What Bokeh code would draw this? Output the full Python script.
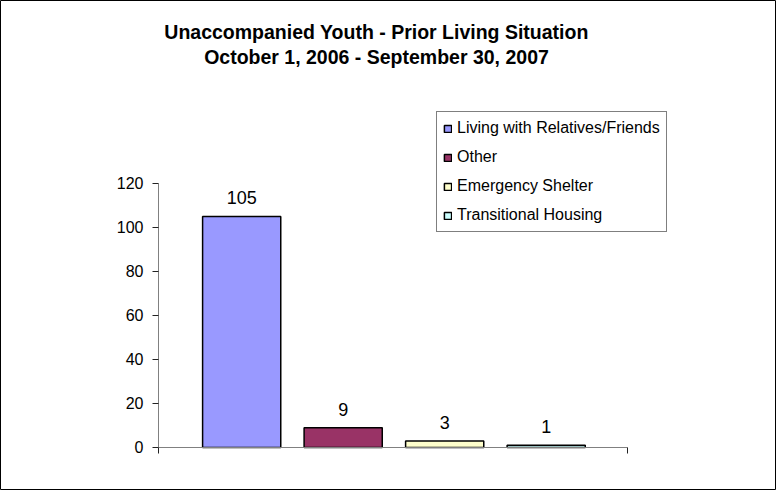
from bokeh.plotting import figure
from bokeh.models import (ColumnDataSource, Range1d, FixedTicker, Legend, LegendItem,
                          Label, CustomJSTickFormatter)
from bokeh.core.properties import value
from bokeh.embed import file_html
from bokeh.resources import INLINE

title_lines = ["Unaccompanied Youth - Prior Living Situation",
               "October 1, 2006 - September 30, 2007"]
series = ["Living with Relatives/Friends", "Other", "Emergency Shelter", "Transitional Housing"]
counts = [105, 9, 3, 1]
colors = ["#9999FF", "#993366", "#FFFFCC", "#CCFFFF"]
y_ticks = [0, 20, 40, 60, 80, 100, 120]
y_limits = (0, 120)

FONT = "Liberation Sans"
W, H = 776, 490

idx = list(range(len(series)))
src = ColumnDataSource(dict(x=idx, top=counts, color=colors,
                            label=[str(c) for c in counts], name=series))

# frame covers the whole canvas; axes are drawn at fixed locations inside it
x_lo, x_hi = -0.82, 3.80
p = figure(width=W, height=H, output_backend="svg", toolbar_location=None, title=None,
           x_range=Range1d(-2.376, 5.269), y_range=Range1d(-19.55, 203.18),
           min_border=0, min_border_left=0, min_border_right=0,
           min_border_top=0, min_border_bottom=0)
p.outline_line_color = "black"
p.outline_line_width = 1
p.xgrid.grid_line_color = None
p.ygrid.grid_line_color = None
p.background_fill_color = "white"
p.border_fill_color = "white"

r = p.vbar(x="x", top="top", width=0.77, source=src, fill_color="color",
           line_color="black", line_width=1.5)

p.text(x="x", y="top", text="label", source=src, text_align="center",
       text_baseline="bottom", y_offset=-12, text_font=value(FONT),
       text_font_size="18px", text_color="black")

# axes
ya = p.yaxis[0]
ya.fixed_location = x_lo
ya.bounds = y_limits
ya.ticker = FixedTicker(ticks=y_ticks)
ya.axis_line_color = "#808080"
ya.major_tick_line_color = "#222222"
ya.major_tick_out = 6
ya.major_tick_in = 0
ya.minor_tick_line_color = None
ya.major_label_standoff = 9
ya.major_label_text_font = FONT
ya.major_label_text_font_size = "16px"
ya.major_label_text_color = "black"

xa = p.xaxis[0]
xa.fixed_location = 0
xa.bounds = (x_lo, x_hi)
xa.ticker = FixedTicker(ticks=[x_lo, x_hi])
xa.axis_line_color = "#808080"
xa.major_tick_line_color = "#222222"
xa.major_tick_out = 6
xa.major_tick_in = 0
xa.minor_tick_line_color = None
xa.formatter = CustomJSTickFormatter(code="return ''")

# title
p.add_layout(Label(x=376, y=H - 31, x_units="screen", y_units="screen", text=title_lines[0],
                   text_align="center", text_baseline="middle", text_font=FONT,
                   text_font_style="bold", text_font_size="19.5px", text_color="black"))
p.add_layout(Label(x=376, y=H - 56, x_units="screen", y_units="screen", text=title_lines[1],
                   text_align="center", text_baseline="middle", text_font=FONT,
                   text_font_style="bold", text_font_size="19.5px", text_color="black"))

# legend
items = [LegendItem(label=s, renderers=[r], index=i) for i, s in enumerate(series)]
legend = Legend(items=items, location=(436, H - 232), orientation="vertical",
                border_line_color="black", border_line_width=1, background_fill_color="white",
                background_fill_alpha=1, padding=6, spacing=9, label_height=20,
                glyph_height=9, glyph_width=9, label_standoff=5, margin=0,
                label_text_font=FONT, label_text_font_size="16px", label_text_color="black")
p.add_layout(legend)

open("out.html", "w").write(file_html(p, INLINE))
